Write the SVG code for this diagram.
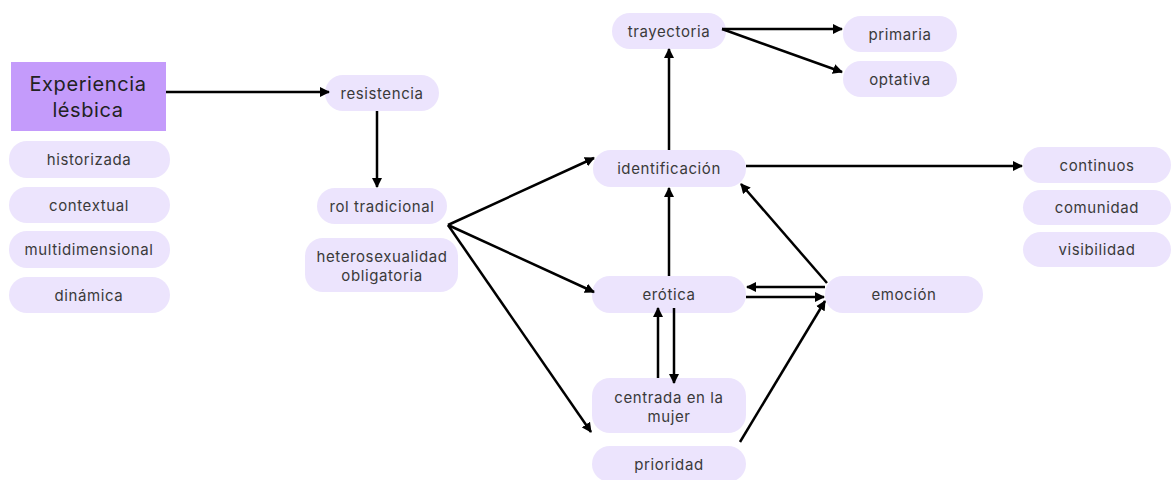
<svg xmlns="http://www.w3.org/2000/svg" width="1171" height="480" viewBox="0 0 1171 480">
<defs>
<marker id="ah" viewBox="0 0 10 10" refX="9" refY="5" markerWidth="4" markerHeight="4" orient="auto" markerUnits="strokeWidth">
<path d="M0,0 L10,5 L0,10 z" fill="#000"/>
</marker>
<style>
.n rect{fill:#ece4fd}
.t{font-family:"Inter","Noto Sans",sans-serif;font-size:15px;letter-spacing:0.6px;fill:#3a3a3a;text-anchor:middle;dominant-baseline:central}
.c path,.c line{stroke:#000;stroke-width:2.5;fill:none;marker-end:url(#ah)}
</style>
</defs>
<rect width="1171" height="480" fill="#fff"/>
<g id="experiencia" class="n"><rect x="11" y="62" width="155" height="69" style="fill:#c49bfb"/><text class="t" x="88" y="84" style="font-size:20px;fill:#222">Experiencia</text><text class="t" x="88" y="110" style="font-size:20px;fill:#222">lésbica</text></g>
<g id="historizada" class="n"><rect x="9" y="141" width="161" height="37" rx="18"/><text class="t" x="89" y="159.5">historizada</text></g>
<g id="contextual" class="n"><rect x="9" y="187" width="161" height="36" rx="18"/><text class="t" x="89" y="205">contextual</text></g>
<g id="multidimensional" class="n"><rect x="9" y="231" width="161" height="37" rx="18"/><text class="t" x="89" y="249.5">multidimensional</text></g>
<g id="dinamica" class="n"><rect x="9" y="277" width="161" height="36" rx="18"/><text class="t" x="89" y="295">dinámica</text></g>
<g id="resistencia" class="n"><rect x="325" y="75" width="114" height="36" rx="18"/><text class="t" x="382" y="93">resistencia</text></g>
<g id="rol" class="n"><rect x="317" y="188" width="130" height="36" rx="18"/><text class="t" x="382" y="206">rol tradicional</text></g>
<g id="hetero" class="n"><rect x="305" y="238" width="153" height="54" rx="18"/><text class="t" x="382" y="256">heterosexualidad</text><text class="t" x="382" y="275">obligatoria</text></g>
<g id="trayectoria" class="n"><rect x="612" y="13" width="114" height="36" rx="18"/><text class="t" x="669" y="31">trayectoria</text></g>
<g id="primaria" class="n"><rect x="843" y="16" width="114" height="36" rx="18"/><text class="t" x="900" y="34">primaria</text></g>
<g id="optativa" class="n"><rect x="843" y="61" width="114" height="36" rx="18"/><text class="t" x="900" y="79">optativa</text></g>
<g id="identificacion" class="n"><rect x="593" y="150" width="153" height="37" rx="18"/><text class="t" x="669" y="168.5">identificación</text></g>
<g id="erotica" class="n"><rect x="592" y="276" width="154" height="37" rx="18"/><text class="t" x="669" y="294.5">erótica</text></g>
<g id="emocion" class="n"><rect x="825" y="276" width="158" height="37" rx="18"/><text class="t" x="904" y="294.5">emoción</text></g>
<g id="centrada" class="n"><rect x="592" y="378" width="154" height="55" rx="18"/><text class="t" x="669" y="397">centrada en la</text><text class="t" x="669" y="416">mujer</text></g>
<g id="prioridad" class="n"><rect x="592" y="446" width="154" height="36" rx="18"/><text class="t" x="669" y="464">prioridad</text></g>
<g id="continuos" class="n"><rect x="1023" y="147" width="148" height="36" rx="18"/><text class="t" x="1097" y="165">continuos</text></g>
<g id="comunidad" class="n"><rect x="1023" y="190" width="148" height="35" rx="18"/><text class="t" x="1097" y="207.5">comunidad</text></g>
<g id="visibilidad" class="n"><rect x="1023" y="232" width="148" height="35" rx="18"/><text class="t" x="1097" y="249.5">visibilidad</text></g>
<g id="connectors" class="c">
<line x1="166" y1="92" x2="329" y2="92"/>
<line x1="377" y1="111" x2="377" y2="187"/>
<line x1="448" y1="225" x2="594" y2="158"/>
<line x1="448" y1="225" x2="594" y2="292"/>
<line x1="448" y1="225" x2="591" y2="432"/>
<line x1="669" y1="150" x2="669" y2="49"/>
<line x1="722" y1="29" x2="842" y2="29"/>
<line x1="722" y1="29" x2="842" y2="72"/>
<line x1="746" y1="166" x2="1022" y2="166"/>
<line x1="669" y1="276" x2="669" y2="188"/>
<line x1="827" y1="283" x2="741" y2="184"/>
<line x1="825" y1="287" x2="747" y2="287"/>
<line x1="746" y1="297" x2="824" y2="297"/>
<line x1="658" y1="378" x2="658" y2="308"/>
<line x1="674" y1="308" x2="674" y2="383"/>
<line x1="740" y1="442" x2="825" y2="301"/>
</g>
</svg>
